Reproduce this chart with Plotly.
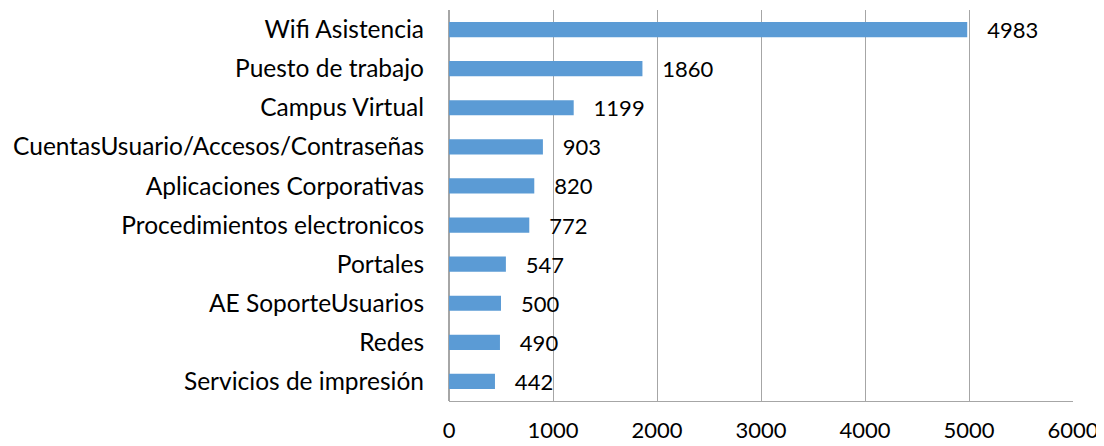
import plotly.graph_objects as go

categorias = ["Wifi Asistencia", "Puesto de trabajo", "Campus Virtual",
              "CuentasUsuario/Accesos/Contraseñas", "Aplicaciones Corporativas",
              "Procedimientos electronicos", "Portales", "AE SoporteUsuarios",
              "Redes", "Servicios de impresión"]
valores = [4983, 1860, 1199, 903, 820, 772, 547, 500, 490, 442]
ticks_x = [0, 1000, 2000, 3000, 4000, 5000, 6000]

fuente = "Lato, Carlito, Calibri, sans-serif"

fig = go.Figure(go.Bar(
    y=categorias, x=valores, orientation="h",
    marker=dict(color="#5B9BD5", line=dict(width=0)),
    text=valores, texttemplate="\u00a0\u00a0\u00a0%{x}",
    textposition="outside", cliponaxis=False, constraintext="none",
    textfont=dict(family=fuente, size=22, color="#000000"),
))

# eje x con lineas de cuadricula grises
fig.update_xaxes(range=[0, 6000], tickvals=ticks_x, showgrid=True,
                 gridcolor="#A6A6A6", gridwidth=1, zeroline=True,
                 zerolinecolor="#A6A6A6", showline=True, linecolor="#A6A6A6",
                 mirror=False, ticks="", ticklabelstandoff=10,
                 tickfont=dict(family=fuente, size=22, color="#000000"))
fig.update_yaxes(autorange="reversed", showgrid=False, ticks="",
                 ticklabelstandoff=24,
                 tickfont=dict(family=fuente, size=24.5, color="#000000"))

# la pagina tiene 8px de margen en el body
fig.update_layout(width=1096, height=438, bargap=0.61,
                  plot_bgcolor="white", paper_bgcolor="white",
                  margin=dict(l=441, r=31, t=2, b=45, autoexpand=False),
                  showlegend=False)
fig.write_html("out.html")
